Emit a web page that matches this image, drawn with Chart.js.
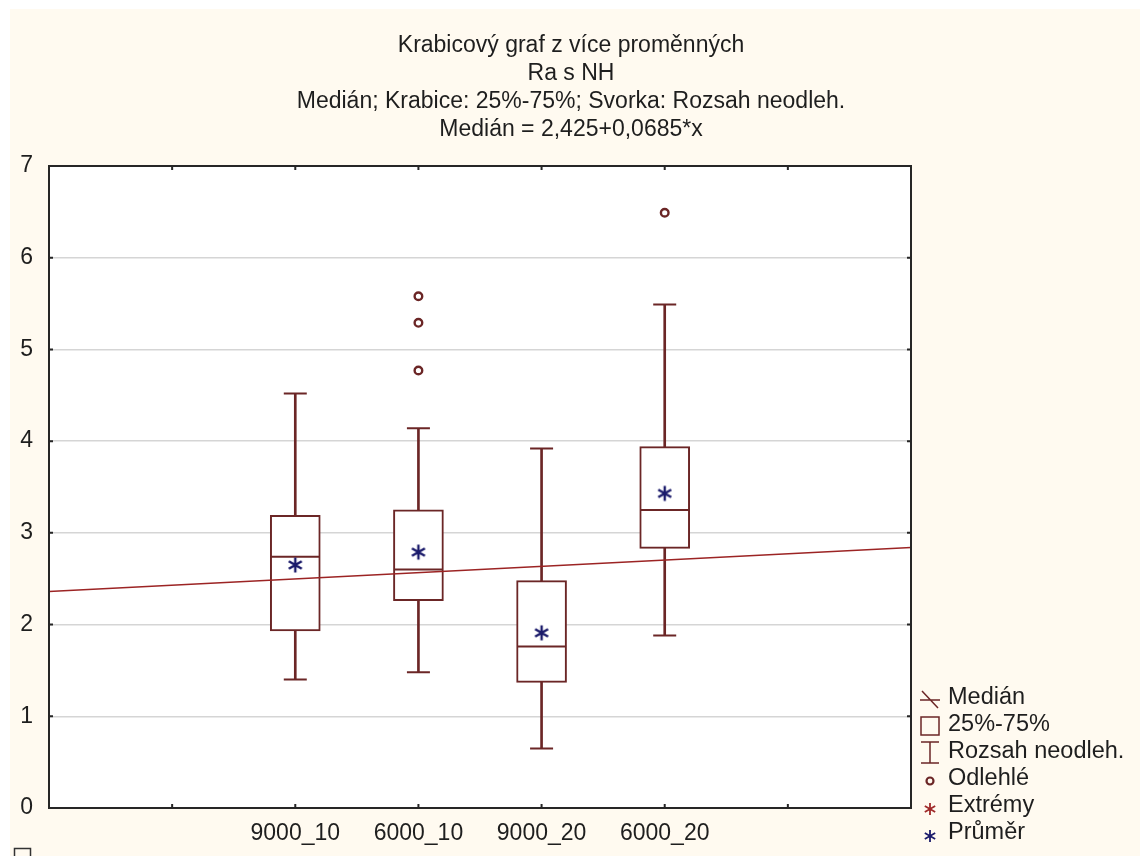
<!DOCTYPE html>
<html>
<head>
<meta charset="utf-8">
<script src="https://cdn.jsdelivr.net/npm/chart.js@4/dist/chart.umd.min.js"></script>
<style>
  html, body { margin: 0; padding: 0; background: #ffffff; }
  #wrap { position: absolute; left: 10px; top: 9px; width: 1130px; height: 847px; background: #fffaf0; }
</style>
</head>
<body>
<div id="wrap"><canvas id="box" width="1130" height="847"></canvas></div>
<script>
// values
const categories = ['9000_10', '6000_10', '9000_20', '6000_20'];
const xLabels = ['', '', '9000_10', '6000_10', '9000_20', '6000_20', '', ''];
const whiskerLow = [1.40, 1.48, 0.65, 1.88];
const q1 = [1.93, 2.26, 1.37, 2.83];
const median = [2.74, 2.60, 1.76, 3.25];
const q3 = [3.19, 3.25, 2.48, 3.94];
const whiskerHigh = [4.52, 4.14, 3.92, 5.49];
const mean = [2.65, 2.79, 1.91, 3.43];
const outliers = [[], [5.58, 5.29, 4.77], [], [6.49]];
const fitEnds = [2.36, 2.84]; // Medián = 2,425+0,0685*x at left / right edge
const titleLines = ['Krabicový graf z více proměnných', 'Ra s NH', 'Medián; Krabice: 25%-75%; Svorka: Rozsah neodleh.', 'Medián = 2,425+0,0685*x'];
const legendItems = ['Medián', '25%-75%', 'Rozsah neodleh.', 'Odlehlé', 'Extrémy', 'Průměr'];

const MAROON = '#6b2626';
const RED = '#9c2424';
const NAVY = '#1b1b6b';
const FONT = '"Liberation Sans", Arial, sans-serif';

// pad category values to the 8 slots of the x axis
const pad = arr => [null, null, ...arr, null, null];

// six-spoke asterisk
function drawAsterisk(ctx, x, y, r, color, lw) {
  ctx.save();
  ctx.strokeStyle = color;
  ctx.lineWidth = lw;
  ctx.beginPath();
  for (let s = 0; s < 3; s++) {
    const ang = Math.PI / 2 + s * Math.PI / 3;
    ctx.moveTo(x + Math.cos(ang) * r, y + Math.sin(ang) * r);
    ctx.lineTo(x - Math.cos(ang) * r, y - Math.sin(ang) * r);
  }
  ctx.stroke();
  ctx.restore();
}
const starImg = document.createElement('canvas');
starImg.width = 18; starImg.height = 18;
drawAsterisk(starImg.getContext('2d'), 9, 9, 7.5, NAVY, 2.4);

const capPoints = [];
categories.forEach((c, i) => { capPoints.push({ x: c, y: whiskerLow[i] }, { x: c, y: whiskerHigh[i] }); });
const outlierPoints = [];
categories.forEach((c, i) => outliers[i].forEach(v => outlierPoints.push({ x: c, y: v })));
const fitData = [fitEnds[0], null, null, null, null, null, null, fitEnds[1]];

const framePlugin = {
  id: 'frame',
  beforeDraw(chart) {
    const { ctx, chartArea: a } = chart;
    ctx.save();
    ctx.fillStyle = '#ffffff';
    ctx.fillRect(a.left, a.top, a.right - a.left, a.bottom - a.top);
    ctx.restore();
  },
  afterDraw(chart) {
    const { ctx, chartArea: a, scales } = chart;
    ctx.save();
    ctx.strokeStyle = '#262626';
    ctx.lineWidth = 2;
    ctx.strokeRect(a.left, a.top, a.right - a.left, a.bottom - a.top);
    ctx.beginPath();
    for (let v = 1; v < 7; v++) {
      const y = scales.y.getPixelForValue(v);
      ctx.moveTo(a.left, y); ctx.lineTo(a.left + 4, y);
      ctx.moveTo(a.right, y); ctx.lineTo(a.right - 4, y);
    }
    for (let i = 1; i < 7; i++) {
      const x = scales.x.getPixelForValue(i);
      ctx.moveTo(x, a.bottom); ctx.lineTo(x, a.bottom - 4);
      ctx.moveTo(x, a.top); ctx.lineTo(x, a.top + 4);
    }
    ctx.stroke();

    // legend
    const sx = a.right + 19, tx = a.right + 37;
    let y = 689;
    ctx.font = '23.5px ' + FONT;
    ctx.textBaseline = 'middle';
    legendItems.forEach((label, k) => {
      ctx.strokeStyle = MAROON;
      ctx.lineWidth = 1.5;
      ctx.beginPath();
      if (k === 0) {
        ctx.moveTo(sx - 10, y + 2); ctx.lineTo(sx + 10, y + 2);
        ctx.moveTo(sx - 8, y - 7); ctx.lineTo(sx + 8, y + 10);
        ctx.stroke();
      } else if (k === 1) {
        ctx.strokeRect(sx - 9, y - 8, 18, 18);
      } else if (k === 2) {
        ctx.moveTo(sx, y - 10); ctx.lineTo(sx, y + 11);
        ctx.moveTo(sx - 9, y - 10); ctx.lineTo(sx + 9, y - 10);
        ctx.moveTo(sx - 9, y + 11); ctx.lineTo(sx + 9, y + 11);
        ctx.stroke();
      } else if (k === 3) {
        ctx.lineWidth = 2.2;
        ctx.arc(sx, y + 2, 3.5, 0, Math.PI * 2);
        ctx.stroke();
      } else {
        drawAsterisk(ctx, sx, y + 3, 6, k === 4 ? '#a02a2a' : NAVY, 1.8);
      }
      ctx.fillStyle = '#1e1e1e';
      ctx.fillText(label, tx, y);
      y += 27;
    });

    // little empty square in the lower left corner
    ctx.strokeStyle = '#333';
    ctx.lineWidth = 1.5;
    ctx.strokeRect(4.5, 839.5, 16, 16);
    ctx.restore();
  }
};

new Chart(document.getElementById('box'), {
  type: 'bar',
  data: {
    labels: xLabels,
    datasets: [
      { type: 'line', label: 'Průměr', data: pad(mean), showLine: false, order: 0,
        pointStyle: starImg, pointRadius: 9 },
      { type: 'line', label: 'Odlehlé', data: outlierPoints, showLine: false, order: 0,
        pointStyle: 'circle', pointRadius: 3.8, pointBorderWidth: 2.4, pointBorderColor: MAROON, pointBackgroundColor: '#ffffff' },
      { type: 'line', label: 'Medián', data: pad(median), showLine: false, order: 1,
        pointStyle: 'line', pointRadius: 24.5, pointBorderWidth: 2, pointBorderColor: MAROON },
      { type: 'line', label: 'caps', data: capPoints, showLine: false, order: 1,
        pointStyle: 'line', pointRadius: 11.5, pointBorderWidth: 2, pointBorderColor: MAROON },
      { type: 'line', label: 'fit', data: fitData, spanGaps: true, order: 2,
        borderColor: RED, borderWidth: 1.5, pointRadius: 0 },
      { label: '25%-75%', data: pad(categories.map((c, i) => [q1[i], q3[i]])), order: 3, grouped: false,
        barThickness: 50, backgroundColor: '#ffffff', borderColor: MAROON, borderWidth: 2, borderSkipped: false },
      { label: 'Rozsah neodleh.', data: pad(categories.map((c, i) => [whiskerLow[i], whiskerHigh[i]])), order: 4, grouped: false,
        barThickness: 2, backgroundColor: MAROON, borderWidth: 0 }
    ]
  },
  options: {
    responsive: false,
    devicePixelRatio: 1,
    animation: false,
    events: [],
    layout: { padding: { top: 4, left: 0, right: 8, bottom: 0 } },
    plugins: {
      legend: { display: false },
      tooltip: { enabled: false },
      title: {
        display: true,
        text: titleLines,
        color: '#1e1e1e',
        font: { family: FONT, size: 23, weight: 'normal', lineHeight: '28px' },
        padding: { top: 19, bottom: 22 }
      }
    },
    scales: {
      x: {
        type: 'category',
        offset: false,
        grid: { display: false, drawTicks: false },
        border: { display: false },
        ticks: { autoSkip: false, maxRotation: 0, padding: 12, color: '#1e1e1e', font: { family: FONT, size: 23 } },
        afterFit: s => { s.height = 48; }
      },
      y: {
        min: 0, max: 7,
        grid: { color: '#d5d5d5', lineWidth: 1.5, drawTicks: false },
        border: { display: false },
        ticks: { stepSize: 1, padding: 16, color: '#1e1e1e', font: { family: FONT, size: 23 } },
        afterFit: s => { s.width = 39; }
      },
      y2: {
        position: 'right',
        min: 0, max: 7,
        grid: { display: false, drawTicks: false },
        border: { display: false },
        ticks: { display: false },
        afterFit: s => { s.width = 221; }
      }
    }
  },
  plugins: [framePlugin]
});
</script>
</body>
</html>
